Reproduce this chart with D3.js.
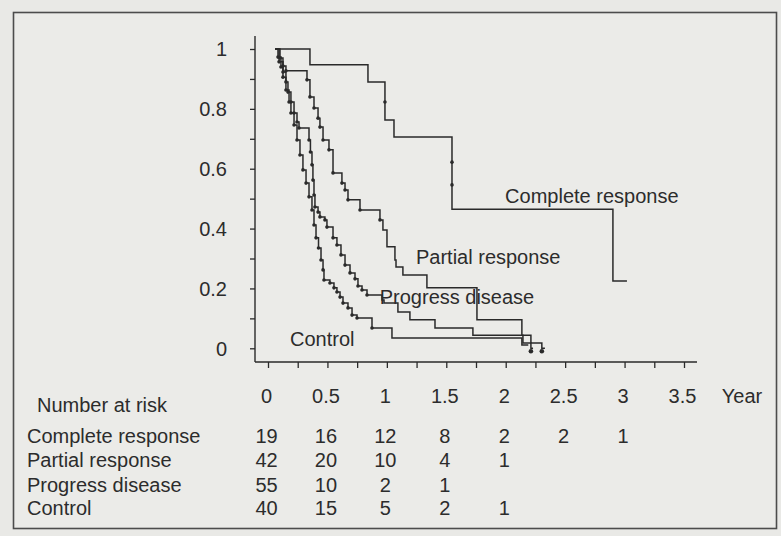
<!DOCTYPE html>
<html>
<head>
<meta charset="utf-8">
<script src="https://cdn.jsdelivr.net/npm/d3@7"></script>
<style>
  body { margin: 0; background: #e9e9e6; }
  svg { display: block; }
  text { font-family: "Liberation Sans", Arial, Helvetica, sans-serif; fill: #2c2c2c; }
</style>
</head>
<body>
<svg id="chart" width="781" height="536"></svg>
<script>
// Kaplan-Meier survival by response group, with numbers at risk
const years = [0, 0.5, 1, 1.5, 2, 2.5, 3, 3.5];
const survLabels = [0, 0.2, 0.4, 0.6, 0.8, 1];
const groups = ["Complete response", "Partial response", "Progress disease", "Control"];

const riskComplete = [19, 16, 12, 8, 2, 2, 1];
const riskPartial  = [42, 20, 10, 4, 1];
const riskProgress = [55, 10, 2, 1];
const riskControl  = [40, 15, 5, 2, 1];

// [time in years, survival after the step]
const kmComplete = [[0.06,1],[0.353,0.947],[0.841,0.890],[0.984,0.763],[1.060,0.706],
  [1.548,0.465],[2.902,0.225],[3.02,0.225]];
const kmPartial = [[0.06,1],[0.101,0.970],[0.126,0.943],[0.151,0.927],[0.328,0.897],
  [0.353,0.840],[0.387,0.803],[0.421,0.769],[0.437,0.739],[0.463,0.696],[0.513,0.663],
  [0.547,0.586],[0.622,0.552],[0.648,0.529],[0.673,0.496],[0.774,0.462],[0.942,0.429],
  [0.967,0.395],[1.001,0.339],[1.068,0.295],[1.077,0.272],[1.135,0.245],[1.337,0.202],
  [1.758,0.095],[2.136,0.044],[2.212,0.018],[2.304,0.0],[2.33,0.0]];
const kmProgress = [[0.06,1],[0.093,0.957],[0.126,0.923],[0.151,0.890],[0.168,0.856],
  [0.193,0.823],[0.219,0.786],[0.244,0.756],[0.261,0.736],[0.345,0.696],[0.357,0.656],
  [0.370,0.613],[0.378,0.562],[0.387,0.512],[0.395,0.472],[0.421,0.455],[0.437,0.439],
  [0.479,0.429],[0.496,0.405],[0.547,0.369],[0.580,0.345],[0.614,0.312],[0.648,0.278],
  [0.690,0.252],[0.732,0.232],[0.757,0.208],[0.791,0.195],[0.833,0.178],[0.959,0.161],
  [0.976,0.151],[1.093,0.121],[1.194,0.095],[1.405,0.068],[1.724,0.044],[2.145,0.018],
  [2.212,0.0],[2.23,0.0]];
const kmControl = [[0.06,1],[0.084,0.973],[0.109,0.940],[0.126,0.906],[0.151,0.863],
  [0.177,0.823],[0.193,0.786],[0.219,0.746],[0.244,0.696],[0.269,0.646],[0.294,0.596],
  [0.320,0.552],[0.345,0.506],[0.370,0.462],[0.387,0.412],[0.404,0.369],[0.425,0.335],
  [0.446,0.295],[0.463,0.262],[0.471,0.228],[0.521,0.218],[0.555,0.202],[0.580,0.188],
  [0.606,0.171],[0.631,0.151],[0.673,0.135],[0.707,0.111],[0.749,0.101],[0.875,0.068],
  [1.043,0.034],[2.136,0.011],[2.19,0.011]];

// censoring marks on the complete-response curve
const marksComplete = [[0.984,0.823],[1.548,0.622],[1.548,0.546]];

// curve labels placed in data space
const curveLabels = [
  {text: "Complete response", t: 1.995, s: 0.51},
  {text: "Partial response",  t: 1.245, s: 0.305},
  {text: "Progress disease",  t: 0.94,  s: 0.172},
  {text: "Control",           t: 0.185, s: 0.032}
];

const svg = d3.select("#chart");
const ink = "#2a2a2a";

svg.append("rect").attr("width", 781).attr("height", 536).attr("fill", "#e9e9e6");
svg.append("rect").attr("x", 13.5).attr("y", 12.5).attr("width", 763).attr("height", 516)
  .attr("fill", "#ebebe8").attr("stroke", "#4c4c4c").attr("stroke-width", 1.6);

const x = d3.scaleLinear().domain([0, 3.5]).range([268, 684]);
const y = d3.scaleLinear().domain([0, 1]).range([348.3, 49]);

const axisX = 255, axisY = 362;

// y axis
const gy = svg.append("g").attr("transform", `translate(${axisX},0)`)
  .call(d3.axisLeft(y).tickValues(d3.range(0, 1.001, 0.1)).tickSize(5).tickFormat(""));
gy.select(".domain").remove();
gy.selectAll("line").attr("stroke", ink).attr("stroke-width", 1.3);
svg.append("line").attr("x1", axisX).attr("x2", axisX).attr("y1", 36).attr("y2", axisY)
  .attr("stroke", ink).attr("stroke-width", 1.4);
svg.selectAll("text.ylab").data(survLabels).join("text").attr("class", "ylab")
  .attr("x", 227).attr("y", d => y(d)).attr("dy", "0.36em")
  .attr("text-anchor", "end").attr("font-size", 20).text(d => d3.format("~g")(d));

// x axis
const gx = svg.append("g").attr("transform", `translate(0,${axisY})`)
  .call(d3.axisBottom(x).tickValues(d3.range(0, 3.501, 0.25)).tickSize(6).tickFormat(""));
gx.select(".domain").remove();
gx.selectAll("line").attr("stroke", ink).attr("stroke-width", 1.3);
svg.append("line").attr("x1", axisX).attr("x2", 697).attr("y1", axisY).attr("y2", axisY)
  .attr("stroke", ink).attr("stroke-width", 1.4);
svg.selectAll("text.xlab").data(years).join("text").attr("class", "xlab")
  .attr("x", d => x(d) - 1.5).attr("y", 396).attr("dy", "0.36em")
  .attr("text-anchor", "middle").attr("font-size", 20).text(d => d3.format("~g")(d));
svg.append("text").attr("x", 742).attr("y", 396).attr("dy", "0.36em")
  .attr("text-anchor", "middle").attr("font-size", 20).text("Year");

// survival curves
const line = d3.line().x(d => x(d[0])).y(d => y(d[1])).curve(d3.curveStepAfter);
const series = [kmComplete, kmPartial, kmProgress, kmControl];
svg.append("g").selectAll("path").data(series).join("path")
  .attr("d", line).attr("fill", "none").attr("stroke", ink).attr("stroke-width", 1.5);

// dense event marks on the early part of the three steep curves
const dotted = [kmPartial, kmProgress, kmControl];
const dots = dotted.flatMap(s => s.slice(1).filter(d => d[0] < 0.95));
svg.append("g").selectAll("circle").data(dots).join("circle")
  .attr("cx", d => x(d[0])).attr("cy", d => y(d[1])).attr("r", 1.8).attr("fill", ink);
svg.append("g").selectAll("circle").data(marksComplete).join("circle")
  .attr("cx", d => x(d[0])).attr("cy", d => y(d[1])).attr("r", 1.8).attr("fill", ink);
// final events
const ends = [kmPartial, kmProgress].map(s => s[s.length - 2]);
svg.append("g").selectAll("circle").data(ends).join("circle")
  .attr("cx", d => x(d[0])).attr("cy", d => y(d[1]) + 3).attr("r", 2.3).attr("fill", ink);

svg.selectAll("text.clab").data(curveLabels).join("text").attr("class", "clab")
  .attr("x", d => x(d.t)).attr("y", d => y(d.s)).attr("dy", "0.36em")
  .attr("font-size", 20).text(d => d.text);

// numbers at risk table
svg.append("text").attr("x", 37).attr("y", 405).attr("dy", "0.36em")
  .attr("font-size", 20).text("Number at risk");
const riskRows = [riskComplete, riskPartial, riskProgress, riskControl];
const rowY = [436, 460, 485, 508];
groups.forEach((g, i) => {
  svg.append("text").attr("x", 27).attr("y", rowY[i]).attr("dy", "0.36em")
    .attr("font-size", 20).text(g);
  svg.append("g").selectAll("text").data(riskRows[i]).join("text")
    .attr("x", (d, j) => x(years[j]) - 1.5).attr("y", rowY[i]).attr("dy", "0.36em")
    .attr("text-anchor", "middle").attr("font-size", 20).text(d => d);
});
</script>
</body>
</html>
